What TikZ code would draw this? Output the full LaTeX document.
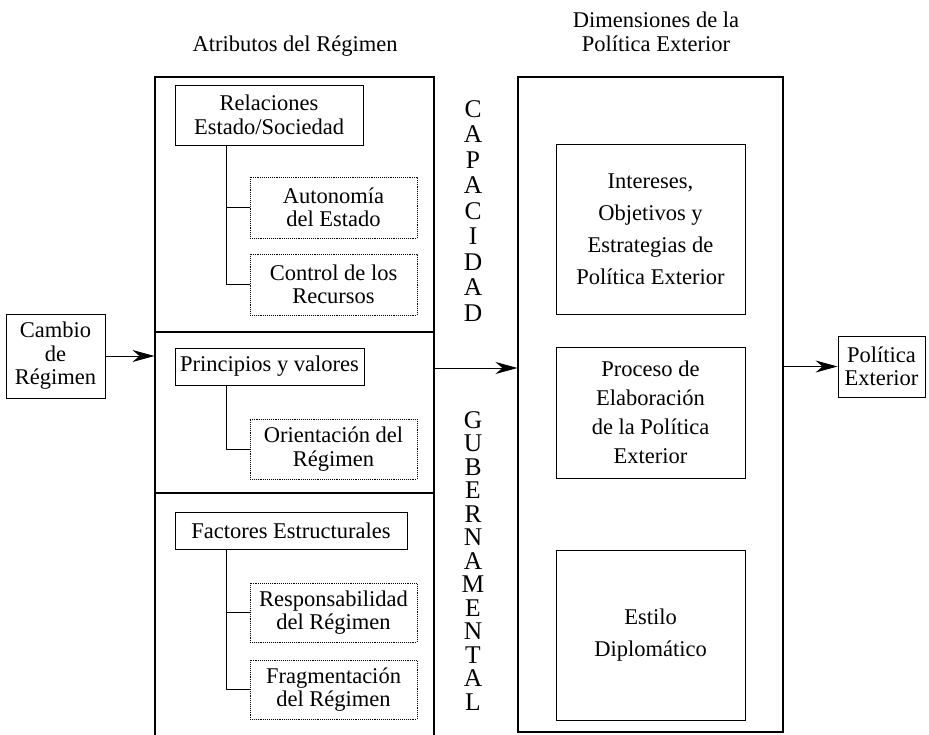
\documentclass[tikz,border=0pt]{standalone}
\usepackage{fontspec}
\setmainfont{Liberation Serif}
\usetikzlibrary{arrows.meta}
\begin{document}
\begin{tikzpicture}[x=1pt,y=-1pt,
  every node/.style={inner sep=0pt, align=center, font=\fontsize{22.5}{23.5}\selectfont},
  solidbox/.style={draw, line width=0.9pt, minimum width=#1},
  dotbox/.style={draw, line width=0.9pt, densely dotted, minimum width=167pt},
  frame/.style={draw, line width=1.1pt, minimum width=#1},
  conn/.style={line width=0.9pt},
  arr/.style={line width=0.9pt, -{Stealth[length=22pt,width=12pt,inset=7pt]}}
]
\useasboundingbox (0,0) rectangle (929,735);
% titles
\node (t1) at (295,46) {Atributos del Régimen};
\node (t2) at (656,32) {Dimensiones de la\\Política Exterior};
% left column
\node[frame=279pt, minimum height=255pt] (sec1) at (294.5,204.5) {};
\node[frame=279pt, minimum height=161pt] (sec2) at (294.5,412.5) {};
\node[frame=279pt, minimum height=247pt] (sec3) at (294.5,616.5) {};
% cambio
\node[solidbox=99pt, minimum height=84pt] (cambio) at (55.5,356) {Cambio\\de\\Régimen};
% section 1
\node[solidbox=188pt, minimum height=60pt] (rel) at (269,115) {Relaciones\\Estado/Sociedad};
\node[dotbox, minimum height=61pt] (auto) at (333.5,207.5) {Autonomía\\del Estado};
\node[dotbox, minimum height=61pt] (ctrl) at (333.5,284.5) {Control de los\\Recursos};
% section 2
\node[solidbox=189pt, minimum height=37pt] (prin) at (269.5,366.5) {Principios y valores};
\node[dotbox, minimum height=60pt] (orient) at (333.5,449) {Orientación del\\Régimen};
% section 3
\node[solidbox=232pt, minimum height=37pt] (fact) at (291,530.5) {Factores Estructurales};
\node[dotbox, minimum height=59pt] (resp) at (333.5,612.5) {Responsabilidad\\del Régimen};
\node[dotbox, minimum height=59pt] (frag) at (333.5,689.5) {Fragmentación\\del Régimen};
% trunk
\coordinate (tx) at (226,0);
\draw[conn] (tx |- rel.south) |- (auto.west);
\draw[conn] (tx |- rel.south) |- (ctrl.west);
\draw[conn] (tx |- prin.south) |- (orient.west);
\draw[conn] (tx |- fact.south) |- (resp.west);
\draw[conn] (tx |- fact.south) |- (frag.west);
% vertical words
\node[font=\fontsize{25.5}{25.5}\selectfont] (cap) at (473,211) {C\\A\\P\\A\\C\\I\\D\\A\\D};
\node[font=\fontsize{25.5}{23.5}\selectfont] (gub) at (473,561) {G\\U\\B\\E\\R\\N\\A\\M\\E\\N\\T\\A\\L};
% right column
\node[frame=265pt, minimum height=655pt] (dim) at (650.5,404.5) {};
\node[solidbox=189pt, minimum height=170pt, font=\fontsize{22.5}{32}\selectfont] (int) at (650.5,229) {Intereses,\\Objetivos y\\Estrategias de\\Política Exterior};
\node[solidbox=189pt, minimum height=131pt, font=\fontsize{22.5}{29}\selectfont] (proc) at (650.5,412.5) {Proceso de\\Elaboración\\de la Política\\Exterior};
\node[solidbox=189pt, minimum height=170pt, font=\fontsize{22.5}{32}\selectfont] (est) at (650.5,635) {Estilo\\Diplomático};
% output
\node[solidbox=87pt, minimum height=61pt] (pol) at (881.5,366.5) {Política\\Exterior};
% arrows
\coordinate (my) at (0,368);
\draw[arr] (cambio.east) -- (cambio.east -| sec2.west);
\draw[arr] (my -| sec2.east) -- (my -| dim.west);
\draw[arr] (pol.west -| dim.east) -- (pol.west);
\end{tikzpicture}
\end{document}
